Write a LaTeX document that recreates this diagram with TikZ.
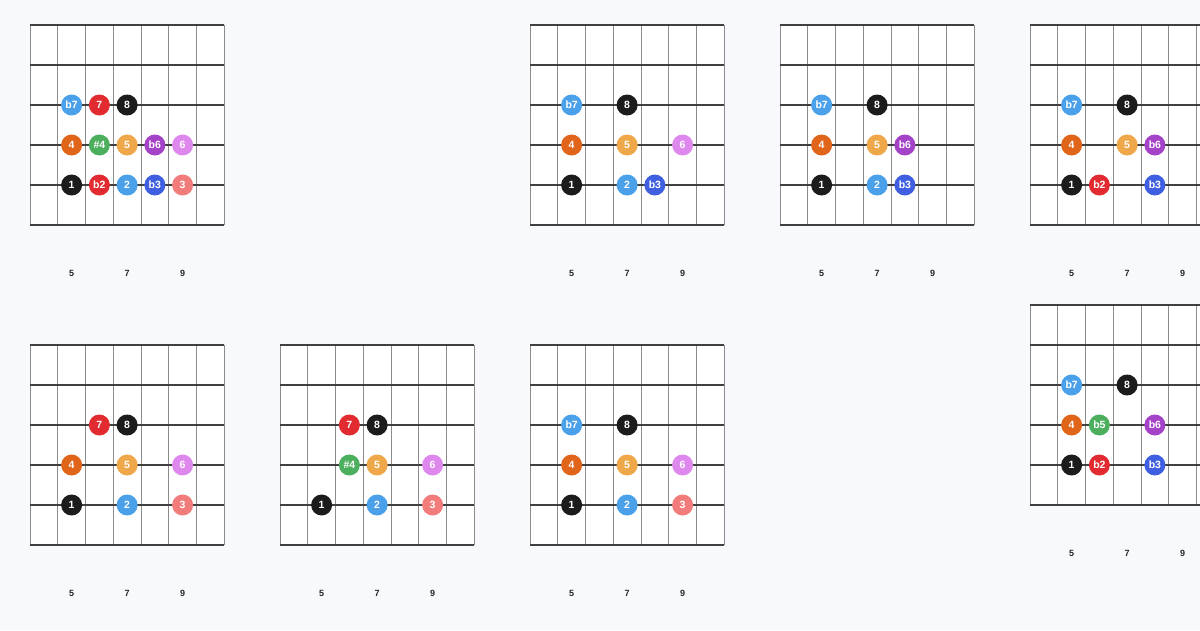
\documentclass[tikz,border=0pt]{standalone}
\usepackage{fontspec}
\setmainfont{Liberation Sans}
\usetikzlibrary{calc}

\definecolor{pagebg}{HTML}{F8F9FC}
\definecolor{skyblue}{HTML}{4BA0EA}
\definecolor{rootblack}{HTML}{1C1C1C}
\definecolor{hotred}{HTML}{E12B30}
\definecolor{burnt}{HTML}{E0651A}
\definecolor{leaf}{HTML}{4CAF5E}
\definecolor{amber}{HTML}{EEA84A}
\definecolor{plum}{HTML}{A442C8}
\definecolor{orchid}{HTML}{DE88EE}
\definecolor{royal}{HTML}{3F5FE0}
\definecolor{salmon}{HTML}{F27B7B}

\tikzset{
  fretline/.style={draw=black!45, line width=1pt},
  stringline/.style={draw=black!75, line width=1.3pt},
  notedot/.style={circle, minimum size=21pt, inner sep=0pt, text=white,
    font=\bfseries\fontsize{10.5}{11}\selectfont},
  fretnum/.style={font=\bfseries\fontsize{9}{10}\selectfont, text=black!85},
}

% one fretboard box: name, x, y, notes (column/string/colour/text)
\newcommand\fretpanel[4]{%
  \begin{scope}[shift={(#2,#3)}]
    \fill[white] (0,0) rectangle (194.25,200);
    \foreach \k in {0,...,7} \draw[fretline] (\k*27.75,0) -- (\k*27.75,200);
    \foreach \s in {0,...,5} \draw[stringline] (0,\s*40) -- (194.25,\s*40);
    \foreach \f/\c in {5/1,7/3,9/5}
      \node[fretnum, name=#1-f\f] at ({(\c+0.5)*27.75},248) {\f};
    \foreach \c/\r/\col/\txt in {#4}
      \node[notedot, fill=\col, name=#1-\c-\r] at ({(\c+0.5)*27.75},{40+\r*40}) {\txt};
  \end{scope}}

\begin{document}
\begin{tikzpicture}[x=1pt, y=-1pt]
  \fill[pagebg] (0,0) rectangle (1200,630);
  \useasboundingbox (0,0) rectangle (1200,630);
  \clip (0,0) rectangle (1200,630);

  \fretpanel{chrom}{30}{25}{1/1/skyblue/b7, 2/1/hotred/7, 3/1/rootblack/8,
    1/2/burnt/4, 2/2/leaf/\#4, 3/2/amber/5, 4/2/plum/b6, 5/2/orchid/6,
    1/3/rootblack/1, 2/3/hotred/b2, 3/3/skyblue/2, 4/3/royal/b3, 5/3/salmon/3}
  \fretpanel{dorian}{530}{25}{1/1/skyblue/b7, 3/1/rootblack/8,
    1/2/burnt/4, 3/2/amber/5, 5/2/orchid/6,
    1/3/rootblack/1, 3/3/skyblue/2, 4/3/royal/b3}
  \fretpanel{aeolian}{780}{25}{1/1/skyblue/b7, 3/1/rootblack/8,
    1/2/burnt/4, 3/2/amber/5, 4/2/plum/b6,
    1/3/rootblack/1, 3/3/skyblue/2, 4/3/royal/b3}
  \fretpanel{phryg}{1030}{25}{1/1/skyblue/b7, 3/1/rootblack/8,
    1/2/burnt/4, 3/2/amber/5, 4/2/plum/b6,
    1/3/rootblack/1, 2/3/hotred/b2, 4/3/royal/b3}
  \fretpanel{ionian}{30}{345}{2/1/hotred/7, 3/1/rootblack/8,
    1/2/burnt/4, 3/2/amber/5, 5/2/orchid/6,
    1/3/rootblack/1, 3/3/skyblue/2, 5/3/salmon/3}
  \fretpanel{lydian}{280}{345}{2/1/hotred/7, 3/1/rootblack/8,
    2/2/leaf/\#4, 3/2/amber/5, 5/2/orchid/6,
    1/3/rootblack/1, 3/3/skyblue/2, 5/3/salmon/3}
  \fretpanel{mixo}{530}{345}{1/1/skyblue/b7, 3/1/rootblack/8,
    1/2/burnt/4, 3/2/amber/5, 5/2/orchid/6,
    1/3/rootblack/1, 3/3/skyblue/2, 5/3/salmon/3}
  \fretpanel{locrian}{1030}{305}{1/1/skyblue/b7, 3/1/rootblack/8,
    1/2/burnt/4, 2/2/leaf/b5, 4/2/plum/b6,
    1/3/rootblack/1, 2/3/hotred/b2, 4/3/royal/b3}
\end{tikzpicture}
\end{document}
